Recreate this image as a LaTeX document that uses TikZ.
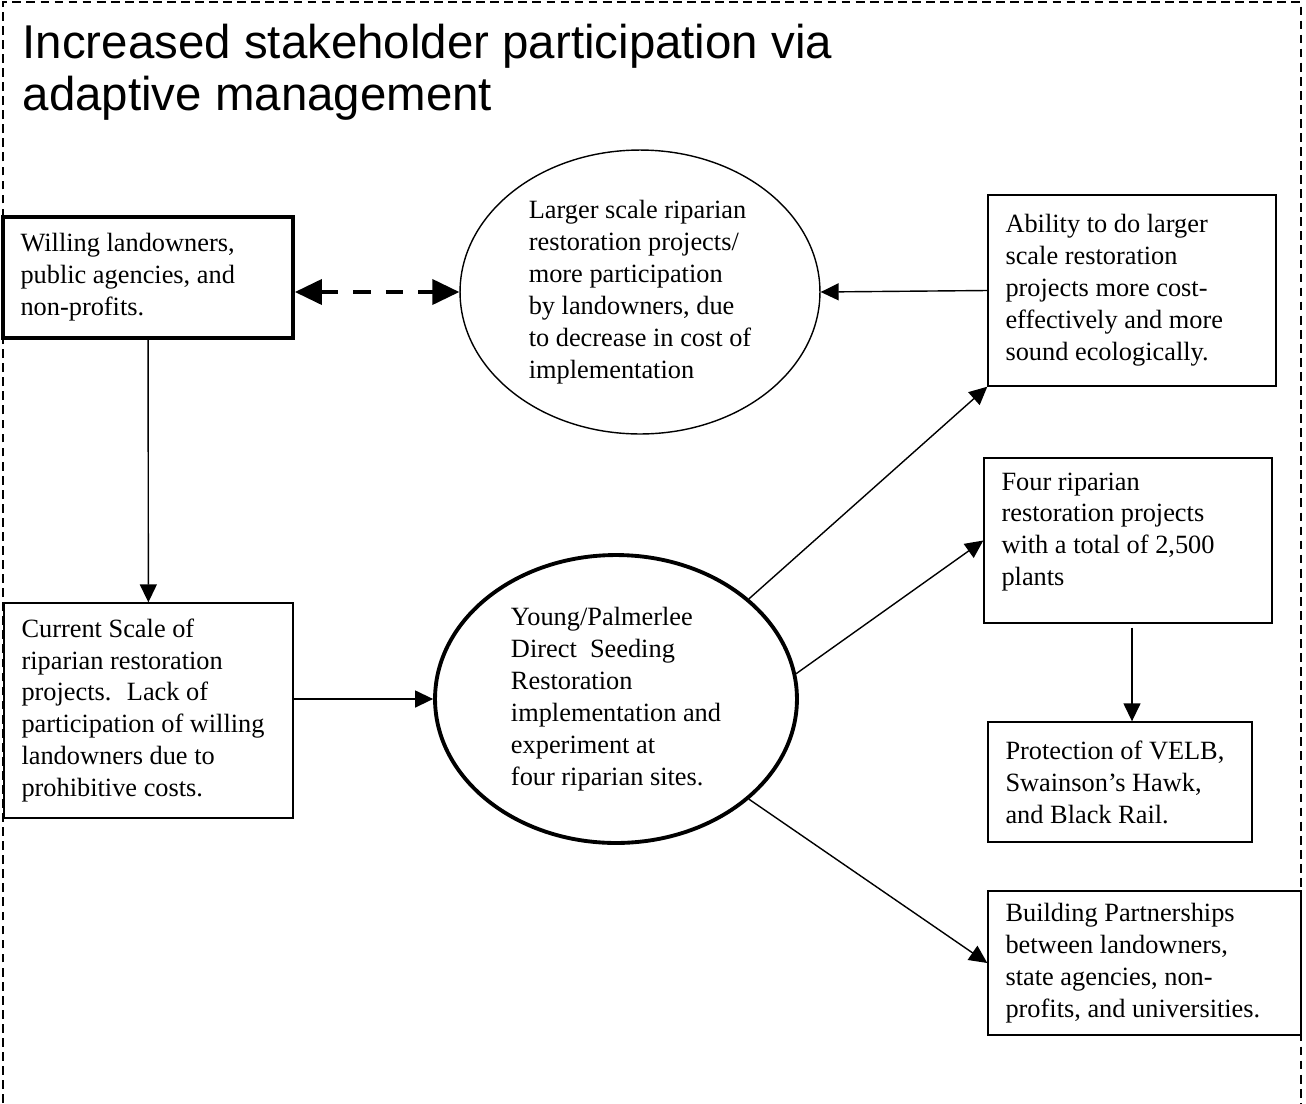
\documentclass[tikz,border=0pt]{standalone}
\usepackage{fontspec}
\setmainfont{Liberation Serif}
\newfontfamily\headfont{Liberation Sans}
\usetikzlibrary{shapes.geometric,arrows.meta}

\begin{document}
\begin{tikzpicture}[x=0.02cm,y=-0.02cm,line width=0.8pt,
        box/.style={draw,inner xsep=0.35cm,inner ysep=0pt,align=flush left},
        oval/.style={draw,ellipse,inner sep=0pt,align=left},
        heavy/.style={line width=2.2pt},
        >={Triangle[length=0.36cm,width=0.34cm]}]
        \fontsize{15}{18.2}\selectfont
        \useasboundingbox (0,0) rectangle (1306,1103);
        \draw[dash pattern=on 5pt off 3pt] (3,1103) -- (3,2) -- (1301,2) -- (1301,1103);
        \node[anchor=north west,inner sep=0pt,align=left,font=\headfont\fontsize{27}{30}\selectfont] (t) at (22,23) {Increased stakeholder participation via\\adaptive management};
        \node[box,heavy,minimum width=5.8cm,minimum height=2.42cm,text width=5.1cm] (a) at (148,277.5) {Willing landowners,\\public agencies, and\\non-profits.};
        \node[oval,minimum width=7.2cm,minimum height=5.68cm] (b) at (640,292) {Larger scale riparian\\restoration projects/\\more participation\\by landowners, due\\to decrease in cost of\\implementation};
        \node[box,minimum width=5.78cm,minimum height=4.3cm,text width=5.08cm] (c) at (148.5,710.5) {Current Scale of\\riparian restoration\\projects.~ Lack of\\participation of willing\\landowners due to\\prohibitive costs.};
        \node[box,minimum width=5.76cm,minimum height=3.82cm,text width=5.06cm] (d) at (1132,290.5) {Ability to do larger\\scale restoration\\projects more cost-\\effectively and more\\sound ecologically.};
        \node[oval,heavy,minimum width=7.24cm,minimum height=5.76cm] (e) at (616,699) {Young/Palmerlee\\Direct~ Seeding\\Restoration\\implementation and\\experiment at\\four riparian sites.};
        \node[box,minimum width=5.76cm,minimum height=3.3cm,text width=5.06cm] (f) at (1128,540.5) {Four riparian\\restoration projects\\with a total of 2,500\\plants\rule[-0.45cm]{0pt}{0.45cm}};
        \node[box,minimum width=5.28cm,minimum height=2.4cm,text width=4.58cm] (g) at (1120,782) {Protection of VELB,\\Swainson’s Hawk,\\and Black Rail.};
        \node[box,minimum width=6.26cm,minimum height=2.88cm,text width=5.56cm] (h) at (1144.5,963) {Building Partnerships\\between landowners,\\state agencies, non-\\profits, and universities.};
        \draw[{Triangle[length=0.54cm,width=0.5cm]}-{Triangle[length=0.54cm,width=0.5cm]},heavy,dash pattern=on 0.35cm off 0.3cm] (a.east |- b.west) -- (b.west);
        \draw[->] (d.west) -- (b.east);
        \draw[->] (a) -- (c);
        \draw[->] (c.east |- e.west) -- (e.west);
        \draw[->] (e.37) -- (d.south west);
        \draw[->] (e.8) -- (f.west);
        \draw[->] (e.-37) -- (h.west);
        \draw[->,shorten <=0.08cm] ([xshift=0.08cm]f.south) -- ([xshift=0.08cm]f.south |- g.north);
\end{tikzpicture}
\end{document}
